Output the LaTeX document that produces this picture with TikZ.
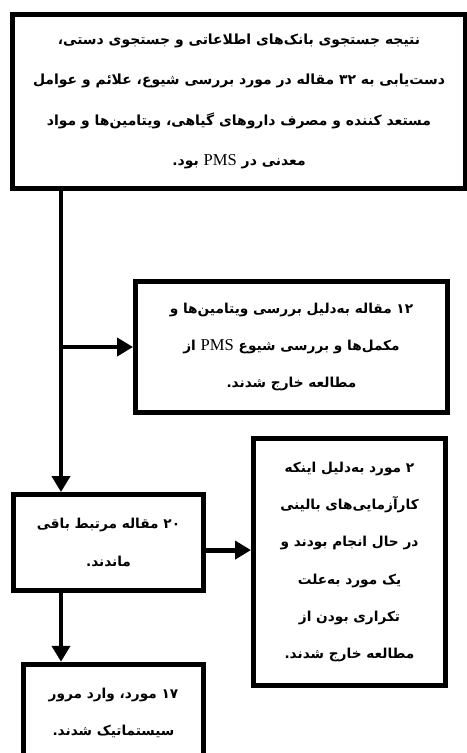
\documentclass[tikz,border=0pt]{standalone}
\usepackage{fontspec}
\usepackage{tikz}
\usetikzlibrary{arrows.meta}
\TeXXeTstate=1
\newfontfamily\farsi[Script=Arabic]{DejaVu Sans}
\newfontfamily\latinfont{Liberation Serif}
\newcommand{\fa}[1]{\beginR #1\endR}
\newcommand{\num}[1]{\beginL #1\endL{}}
\newcommand{\pms}{\beginL{\latinfont\mdseries\fontsize{12.5}{12.5}\selectfont PMS}\endL{}}

\tikzset{
  box/.style={draw, line width=3.75pt, align=center, inner sep=0pt,
    font=\farsi\bfseries\fontsize{10.3}{28}\selectfont},
  link/.style={line width=3.75pt, -{Triangle[length=12pt,width=13.5pt]}},
}

\begin{document}
\begin{tikzpicture}

        \useasboundingbox (0,0) rectangle (12.356,-19.923);

        % Boxes
        \node[box, minimum width=11.985cm, minimum height=4.60cm,
              font=\farsi\bfseries\fontsize{10.5}{30.5}\selectfont] (top) at (6.324,-2.686)
            {\fa{نتیجه جستجوی بانک‌های اطلاعاتی و جستجوی دستی،}\\
             \fa{دست‌یابی به \num{۳۲} مقاله در مورد بررسی شیوع، علائم و عوامل}\\
             \fa{مستعد کننده و مصرف داروهای گیاهی، ویتامین‌ها و مواد}\\
             \fa{معدنی در \pms{} بود.}};

        \node[box, minimum width=8.255cm, minimum height=3.466cm] (b12) at (7.713,-9.181)
            {\fa{\num{۱۲} مقاله به‌دلیل بررسی ویتامین‌ها و}\\
             \fa{مکمل‌ها و بررسی شیوع \pms{} از}\\
             \fa{مطالعه خارج شدند.}};

        \node[box, minimum width=5.027cm, minimum height=2.54cm] (b20) at (2.871,-14.354)
            {\fa{\num{۲۰} مقاله مرتبط باقی}\\
             \fa{ماندند.}};

        \node[box, minimum width=5.08cm, minimum height=6.535cm] (b2) at (9.247,-14.870)
            {\fa{\num{۲} مورد به‌دلیل اینکه}\\
             \fa{کارآزمایی‌های بالینی}\\
             \fa{در حال انجام بودند و}\\
             \fa{یک مورد به‌علت}\\
             \fa{تکراری بودن از}\\
             \fa{مطالعه خارج شدند.}};

        \node[box, minimum width=4.763cm, minimum height=2.58cm] (b17) at (3.003,-18.865)
            {\fa{\num{۱۷} مورد، وارد مرور}\\
             \fa{سیستماتیک شدند.}};

        % Connectors
        \coordinate (trunk) at (1.614,0);
        \draw[link] (top.south -| trunk) -- (b20.north -| trunk);
        \draw[link] (trunk |- b12.west) -- (b12.west);
        \draw[link] ([yshift=-0.2cm]b20.east) -- ([yshift=-0.2cm]b20.east -| b2.west);
        \draw[link] (b20.south -| trunk) -- (b17.north -| trunk);

\end{tikzpicture}
\end{document}
